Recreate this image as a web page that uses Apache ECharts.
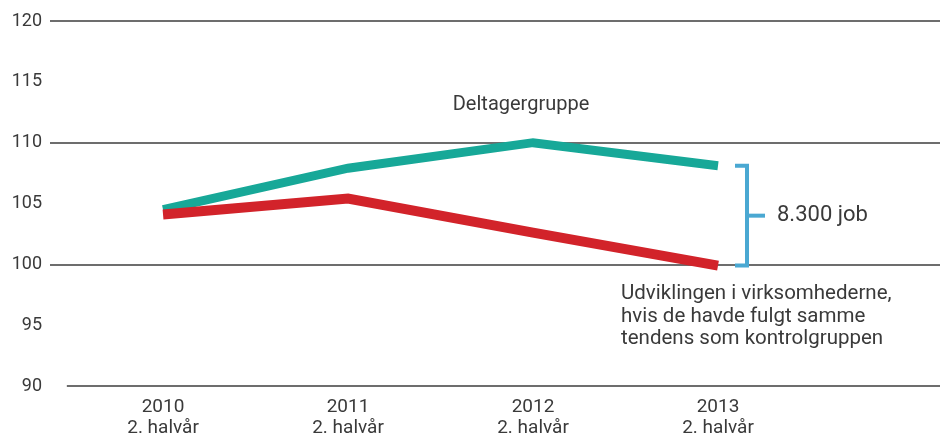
<!DOCTYPE html>
<html lang="da" style="height: 100%">
<head>
    <meta charset="utf-8">
</head>
<body style="height: 100%; margin: 0; background: #fff">
    <div id="container" style="width: 940px; height: 439px"></div>

    <script type="text/javascript" src="https://cdn.jsdelivr.net/npm/echarts@6/dist/echarts.min.js"></script>
    <script type="text/javascript">
        // data
        var periods = ['2010\n2. halvår', '2011\n2. halvår', '2012\n2. halvår', '2013\n2. halvår'];
        var deltager = [104.5, 107.9, 110.0, 108.1];
        var kontrol = [104.1, 105.4, 102.6, 99.9];
        var yLabels = [90, 95, 100, 105, 110, 115, 120];

        var font = "'Roboto', sans-serif";
        var textColor = '#3a3a3a';

        var dom = document.getElementById('container');
        var myChart = echarts.init(dom, null, { renderer: 'canvas' });

        function toPairs(arr) {
            return arr.map(function (v, i) { return [i, v]; });
        }

        var option = {
            animation: false,
            grid: { left: 50, right: 0, top: 21, bottom: 53 },
            xAxis: {
                type: 'value',
                min: -0.611,
                max: 4.2,
                axisLine: { show: false },
                axisTick: { show: false },
                splitLine: { show: false },
                axisLabel: {
                    customValues: [0, 1, 2, 3],
                    formatter: function (v) { return periods[Math.round(v)]; },
                    fontFamily: font,
                    fontSize: 19,
                    lineHeight: 21,
                    color: textColor,
                    margin: 11
                }
            },
            yAxis: [{
                type: 'value',
                min: 90,
                max: 120,
                axisLine: { show: false },
                axisTick: { show: false },
                splitLine: { show: false },
                axisLabel: {
                    customValues: yLabels,
                    fontFamily: font,
                    fontSize: 18,
                    color: textColor,
                    margin: 8
                }
            }, {
                type: 'value',
                min: 90,
                max: 120,
                interval: 10,
                position: 'left',
                axisLine: { show: false },
                axisTick: { show: false },
                axisLabel: { show: false },
                splitLine: {
                    show: true,
                    showMinLine: false,
                    lineStyle: { color: '#3c3c3c', width: 1.5 }
                }
            }],
            series: [{
                name: 'Deltagergruppe',
                type: 'line',
                data: toPairs(deltager),
                showSymbol: false,
                lineStyle: { color: '#17a898', width: 9, cap: 'butt', join: 'miter' }
            }, {
                name: 'Kontrolgruppe',
                type: 'line',
                data: toPairs(kontrol),
                showSymbol: false,
                lineStyle: { color: '#d2232a', width: 10, cap: 'butt', join: 'miter' }
            }]
        };

        myChart.setOption(option);

        // annotations placed from data coordinates
        var last = deltager.length - 1;
        var pTop = myChart.convertToPixel({ gridIndex: 0 }, [last, deltager[last]]);
        var pBot = myChart.convertToPixel({ gridIndex: 0 }, [last, kontrol[last]]);
        var base0 = myChart.convertToPixel({ gridIndex: 0 }, [-0.52, 90]);
        var base1 = myChart.convertToPixel({ gridIndex: 0 }, [4.2, 90]);
        var peak = myChart.convertToPixel({ gridIndex: 0 }, [2, deltager[2]]);

        var bx = pTop[0] + 29;
        var midY = (pTop[1] + pBot[1]) / 2;
        var blue = '#4aa8d2';

        myChart.setOption({
            graphic: [
                { type: 'line', shape: { x1: base0[0], y1: base0[1], x2: base1[0], y2: base1[1] }, style: { stroke: '#3c3c3c', lineWidth: 1.5 } },
                { type: 'polyline', shape: { points: [[bx - 12, pTop[1]], [bx, pTop[1]], [bx, pBot[1]], [bx - 12, pBot[1]]] }, style: { stroke: blue, lineWidth: 4, fill: null } },
                { type: 'line', shape: { x1: bx, y1: midY, x2: bx + 18, y2: midY }, style: { stroke: blue, lineWidth: 4 } },
                { type: 'text', x: bx + 30, y: midY, style: { text: '8.300 job', font: '22px ' + font, fill: textColor, textVerticalAlign: 'middle' } },
                { type: 'text', x: peak[0] - 12, y: peak[1] - 38, style: { text: 'Deltagergruppe', font: '20px ' + font, fill: textColor, textAlign: 'center', textVerticalAlign: 'middle' } },
                { type: 'text', x: 621, y: 283, style: { text: 'Udviklingen i virksomhederne,\nhvis de havde fulgt samme\ntendens som kontrolgruppen', font: '20.5px ' + font, lineHeight: 22.5, fill: textColor, textVerticalAlign: 'top' } }
            ]
        });

        window.addEventListener('resize', myChart.resize);
    </script>
</body>
</html>
